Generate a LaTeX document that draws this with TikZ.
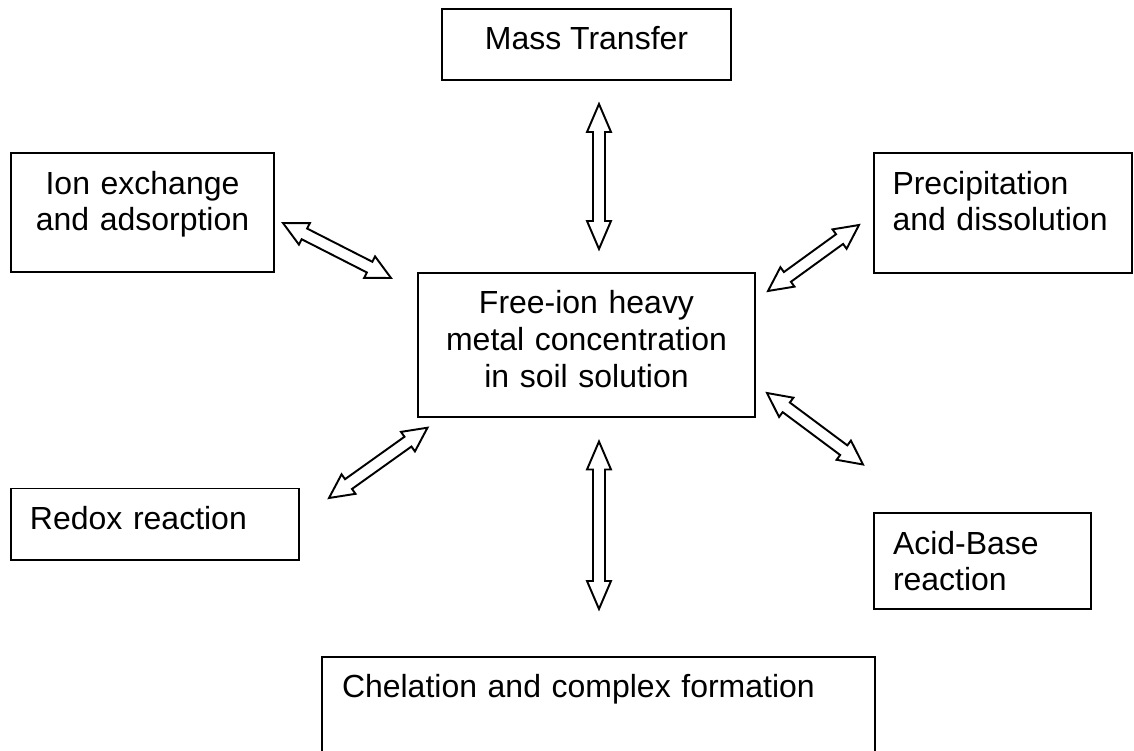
\documentclass[tikz,border=0pt]{standalone}
\usepackage{fontspec}
\setmainfont{Liberation Sans}
\usetikzlibrary{calc}
\newcommand{\dbarrow}[3]{%
  \draw[hollow] (#1)
  -- ($(#1)!#3!(#2)!0.24cm!90:(#2)$)
  -- ($(#1)!#3!(#2)!0.12cm!90:(#2)$)
  -- ($(#2)!#3!(#1)!0.12cm!-90:(#1)$)
  -- ($(#2)!#3!(#1)!0.24cm!-90:(#1)$)
  -- (#2)
  -- ($(#2)!#3!(#1)!0.24cm!90:(#1)$)
  -- ($(#2)!#3!(#1)!0.12cm!90:(#1)$)
  -- ($(#1)!#3!(#2)!0.12cm!-90:(#2)$)
  -- ($(#1)!#3!(#2)!0.24cm!-90:(#2)$)
  -- cycle;}
\begin{document}
\begin{tikzpicture}[x=0.02cm,y=-0.02cm,
  box/.style={draw, line width=1.1pt, inner sep=0pt, outer sep=0pt, anchor=north west},
  txt/.style={inner sep=0pt, outer sep=0pt, font=\fontsize{18.2}{21.05}\selectfont},
  txtc/.style={txt, text width=8cm, align=center},
  txtl/.style={txt, text width=11cm, align=left},
  hollow/.style={draw, line width=1.1pt, fill=white, line join=miter}]
\useasboundingbox (0,0) rectangle (1134,751);
\clip (0,0) rectangle (1134,751);

% boxes
\node[box, minimum width=5.78cm, minimum height=1.42cm] (mass) at (442,9) {};
\node[box, minimum width=5.26cm, minimum height=2.38cm] (ion) at (11,153) {};
\node[box, minimum width=6.74cm, minimum height=2.88cm] (center) at (418,273) {};
\node[box, minimum width=5.16cm, minimum height=2.40cm] (precip) at (874,153) {};
\node[box, minimum width=5.77cm, minimum height=1.43cm] (redox) at (11,488.5) {};
\node[box, minimum width=4.34cm, minimum height=1.92cm] (acid) at (874,513) {};
\node[box, minimum width=11.07cm, minimum height=2.26cm] (chel) at (322,657) {};

% texts
\node[txt, anchor=base] (masst) at (586.5,49.3) {Mass Transfer};
\node[txtc, anchor=base] (iont) at (142.5,194) {Ion exchange\\and adsorption};
\node[txtc, anchor=base] (centt) at (586.5,313.5) {Free-ion heavy\\metal concentration\\in soil solution};
\node[txtl, anchor=base west] (prect) at (892.5,194) {Precipitation\\and dissolution};
\node[txtl, anchor=base west] (redt) at (30,529) {Redox reaction};
\node[txtl, anchor=base west] (acidt) at (893,554) {Acid-Base\\reaction};
\node[txtl, anchor=base west] (chelt) at (342,697) {Chelation and complex formation};

% arrow tips
\coordinate (topA) at (599,104);
\coordinate (topB) at (599,249);
\coordinate (botA) at (599,441.5);
\coordinate (botB) at (599,609);
\coordinate (ionA) at (283,223);
\coordinate (ionB) at (391,278);
\coordinate (preA) at (768,291);
\coordinate (preB) at (859,225);
\coordinate (redA) at (329,498);
\coordinate (redB) at (427.5,427.7);
\coordinate (acdA) at (767,393);
\coordinate (acdB) at (863,464.5);

\dbarrow{topA}{topB}{0.56cm}
\dbarrow{botA}{botB}{0.56cm}
\dbarrow{ionA}{ionB}{0.48cm}
\dbarrow{preA}{preB}{0.48cm}
\dbarrow{redA}{redB}{0.48cm}
\dbarrow{acdA}{acdB}{0.48cm}
\end{tikzpicture}
\end{document}
